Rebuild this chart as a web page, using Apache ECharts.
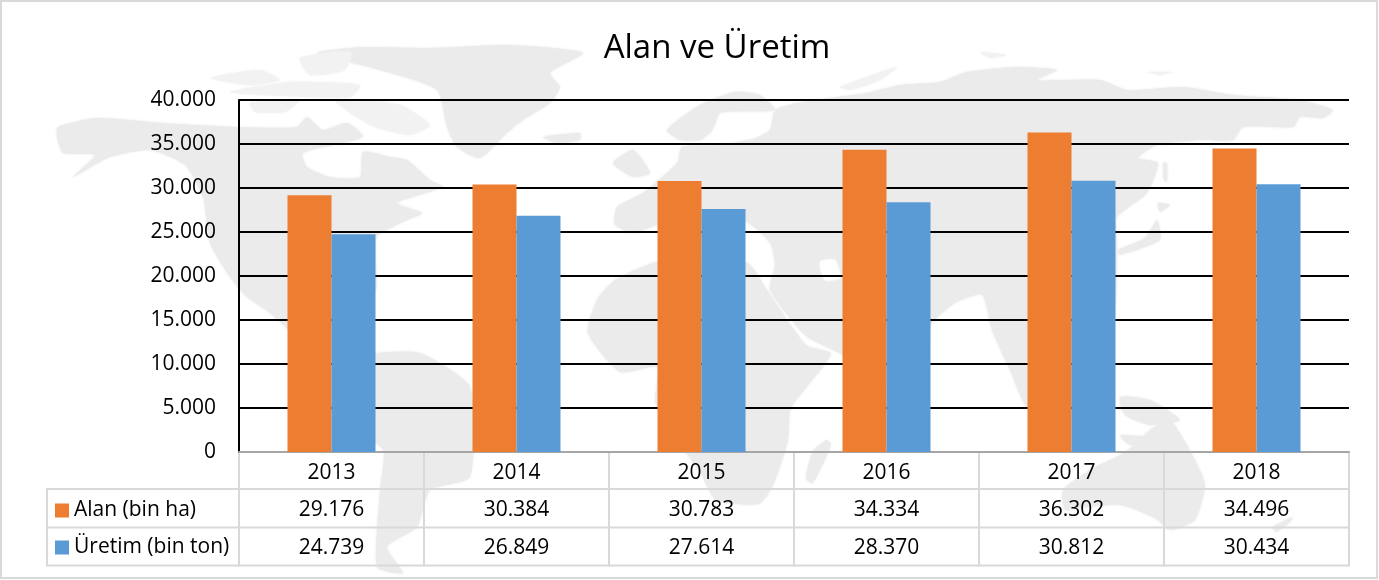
<!DOCTYPE html>
<html>
<head>
<meta charset="utf-8">
<style>
  html, body { margin: 0; padding: 0; background: #fff; }
  #chart { width: 1379px; height: 580px; }
</style>
<script src="https://cdn.jsdelivr.net/npm/echarts@6/dist/echarts.min.js"></script>
</head>
<body>
<div id="chart"></div>
<script>
const years = ['2013', '2014', '2015', '2016', '2017', '2018']
const alan = [29176, 30384, 30783, 34334, 36302, 34496]
const uretim = [24739, 26849, 27614, 28370, 30812, 30434]
const nameAlan = 'Alan (bin ha)'
const nameUretim = 'Üretim (bin ton)'

const fontName = '"Open Sans"'
const fmt = v => String(v).replace(/\B(?=(\d{3})+$)/g, '.')

// arka plandaki dunya haritasi (sadece dekor)
const land = [
  // Kuzey Amerika
  [[58,127],[97,118],[163,123],[237,127],[297,127],[307,117],[323,130],[347,123],[363,137],[303,153],[307,167],[330,177],[360,177],[363,152],[390,157],[407,160],[430,180],[443,187],[397,203],[422,213],[403,222],[377,237],[376,290],[350,335],[330,360],[300,340],[270,313],[247,297],[230,277],[210,243],[203,197],[185,165],[150,150],[110,157],[73,177],[95,155],[63,153],[57,137]],
  // Gronland
  [[317,53],[363,47],[430,48],[500,45],[543,47],[583,53],[550,73],[560,87],[550,103],[523,120],[507,133],[480,158],[457,147],[447,127],[437,90],[380,70]],
  // Guney Amerika
  [[340,365],[377,353],[420,353],[470,387],[470,477],[430,490],[417,527],[387,547],[403,573],[377,567],[380,490],[383,450],[345,420]],
  // Izlanda, Britanya
  [[543,137],[580,133],[580,140],[557,143]], [[613,163],[633,150],[650,173],[633,177]],
  // Iskandinavya
  [[667,130],[700,105],[735,92],[760,95],[775,110],[720,113],[713,130],[700,140],[680,140]],
  // Avrasya
  [[617,207],[643,193],[677,163],[682,147],[720,145],[755,138],[770,130],[775,110],[797,103],[830,98],[867,93],[900,85],[940,82],[967,72],[1017,67],[1057,70],[1037,80],[1100,80],[1127,90],[1183,87],[1233,95],[1300,100],[1333,110],[1323,118],[1300,117],[1293,127],[1243,127],[1233,140],[1200,140],[1157,145],[1138,158],[1158,163],[1147,193],[1117,217],[1117,237],[1116,300],[1100,400],[1030,410],[1010,370],[992,330],[982,295],[955,303],[931,325],[925,365],[880,385],[841,354],[806,336],[770,290],[775,265],[770,243],[746,222],[700,225],[657,225],[635,233],[615,225]],
  // Afrika
  [[597,300],[615,280],[657,262],[746,262],[767,290],[806,345],[831,354],[791,408],[788,440],[774,483],[759,504],[716,500],[702,476],[656,404],[657,367],[620,372],[588,333]],
  // Madagaskar
  [[827,440],[831,445],[813,483],[806,479],[813,451]],
  // Japonya
  [[1163,163],[1167,163],[1167,182],[1164,180]], [[1158,203],[1170,205],[1160,212]], [[1157,220],[1160,240],[1120,255],[1118,250],[1145,238]],
  // Endonezya
  [[1120,397],[1150,400],[1180,420],[1150,425],[1125,415]], [[1120,435],[1170,440],[1180,450],[1130,445]],
  // Avustralya
  [[1063,490],[1090,470],[1120,455],[1135,445],[1150,430],[1170,420],[1195,460],[1205,485],[1195,520],[1170,530],[1155,518],[1120,505],[1080,508],[1065,510]],
  // Yeni Zelanda
  [[1273,527],[1293,517],[1290,522],[1276,532]]
]
// kuzeydeki soluk adalar
const faintLand = [
  [[210,78],[260,70],[280,80],[250,85]], [[300,58],[350,52],[345,70],[310,75]], [[230,92],[290,82],[360,85],[350,97],[280,96]],
  [[250,103],[300,100],[285,112],[255,112]], [[335,100],[400,105],[430,125],[410,135],[370,125]],
  [[840,87],[897,67],[880,80],[850,90]], [[980,52],[1007,55],[990,58]], [[1147,72],[1173,72],[1160,75]]
]
const seas = [
  [[713,130],[733,113],[740,117],[727,130],[757,137],[717,140]], // Baltik
  [[820,262],[835,260],[840,278],[825,280]], // Hazar
  [[740,247],[765,245],[762,254],[742,254]] // Karadeniz
]

const blob = (fill, z) => p => ({
  type: 'polygon', silent: true, z,
  shape: { points: p, smooth: 0.2 },
  style: { fill, shadowBlur: 3, shadowColor: fill }
})
const mapGfx = land.map(blob('#ebebeb', -10))
  .concat(faintLand.map(blob('#f2f2f2', -10)), seas.map(blob('#ffffff', -9)))

// tablo cizgileri
const tableColor = '#d9d9d9'
const tableLine = (x1, y1, x2, y2) => ({
  type: 'line', silent: true, z: -5,
  shape: { x1, y1, x2, y2 },
  style: { stroke: tableColor, lineWidth: 2 }
})
const colX = [239, 424, 609, 794, 979, 1164, 1349]
const tableGfx = [
  tableLine(47, 489, 1349, 489),
  tableLine(47, 527.5, 1349, 527.5),
  tableLine(47, 565.5, 1349, 565.5),
  tableLine(47, 488, 47, 566.5)
].concat(colX.map(x => tableLine(x, 452, x, 566.5)))

const frame = {
  type: 'rect', silent: true, z: -4,
  shape: { x: 1, y: 1, width: 1376, height: 577 },
  style: { fill: 'transparent', stroke: tableColor, lineWidth: 2 }
}

const chart = echarts.init(document.getElementById('chart'))
chart.setOption({
  animation: false,
  backgroundColor: '#fff',
  title: {
    text: 'Alan ve Üretim',
    left: 712,
    top: 27,
    textAlign: 'center',
    textStyle: { fontFamily: fontName, fontSize: 33, fontWeight: 'normal', color: '#000' }
  },
  legend: {
    orient: 'vertical',
    left: 55,
    top: 500,
    padding: 0,
    icon: 'rect',
    itemWidth: 14,
    itemHeight: 14,
    itemGap: 16,
    selectedMode: false,
    textStyle: { fontFamily: fontName, fontSize: 21, color: '#000' },
    data: [nameAlan, nameUretim]
  },
  grid: { left: 239, right: 30, top: 100, height: 352 },
  xAxis: {
    type: 'category',
    data: years,
    axisLine: { lineStyle: { color: '#a6a6a6', width: 2 } },
    axisTick: { show: false },
    axisLabel: {
      margin: 2,
      interval: 0,
      fontFamily: fontName,
      fontSize: 21,
      color: '#000',
      lineHeight: 37.5,
      formatter: (v, i) => [v, fmt(alan[i]), fmt(uretim[i])].join('\n')
    }
  },
  yAxis: {
    type: 'value',
    min: 0,
    max: 40000,
    interval: 5000,
    axisLine: { show: true, lineStyle: { color: '#000', width: 2 } },
    axisTick: { show: false },
    splitLine: { lineStyle: { color: '#000', width: 2 } },
    axisLabel: {
      margin: 23,
      padding: [3, 0, 0, 0],
      fontFamily: fontName,
      fontSize: 21,
      color: '#000',
      formatter: v => fmt(v)
    }
  },
  series: [
    { name: nameAlan, type: 'bar', data: alan, barWidth: 44, barGap: 0, itemStyle: { color: '#ed7d31' } },
    { name: nameUretim, type: 'bar', data: uretim, barWidth: 44, barGap: 0, itemStyle: { color: '#5b9bd5' } }
  ],
  graphic: mapGfx.concat(tableGfx, frame)
})
</script>
</body>
</html>
